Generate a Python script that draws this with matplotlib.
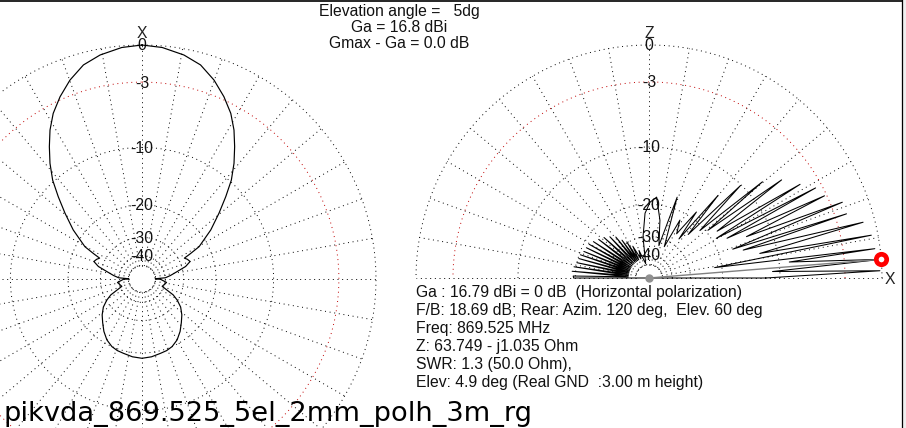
import numpy as np
import matplotlib
matplotlib.use("Agg")
import matplotlib.pyplot as plt
from matplotlib.transforms import ScaledTranslation

W, H, DPI = 906, 428, 100

# ---------------- data ----------------
# Horizontal (azimuth) pattern, degrees clockwise from X (top), dB relative
az_deg = [0, 5, 10.6, 15.3, 19.9, 24.2, 28.2, 31.7, 35.0, 38.5, 42.1, 45.5, 49.5, 54.5,
          60.5, 62.5, 63.8, 66.5, 70, 74, 78, 83, 87, 89, 91, 98, 110, 117, 121, 126,
          132, 138, 144, 150, 156, 161, 166, 173, 180,
          187, 194, 199, 204, 210, 216, 222, 228, 234, 239, 243, 250, 262, 269, 271,
          273, 277, 282, 286, 290, 293.5, 296.2, 297.5, 299.5, 305.5, 310.5, 314.5,
          317.9, 321.5, 325.0, 328.3, 331.8, 335.8, 340.1, 344.7, 349.4, 355, 360]
az_db = [0.0, -0.12, -0.46, -0.92, -1.75, -2.74, -3.81, -5.04, -6.44, -7.98, -9.78,
         -11.98, -14.56, -17.7, -22.1, -25.5, -27.8, -27.0, -26.4, -28.5, -32.5, -36.5,
         -40.0, -50.0, -44.0, -39.0, -41.5, -33.0, -30.2, -27.6, -25.6, -24.0, -22.3,
         -20.9, -20.0, -19.6, -19.4, -19.0, -18.8,
         -19.0, -19.4, -19.6, -20.0, -20.9, -22.3, -24.0, -25.6, -27.6, -30.2, -33.0,
         -41.5, -39.0, -44.0, -50.0, -40.0, -36.5, -32.5, -28.5, -26.4, -27.0, -27.8,
         -25.5, -22.1, -17.7, -14.56, -11.98, -9.78, -7.98, -6.44, -5.04, -3.81, -2.74,
         -1.75, -0.92, -0.46, -0.12, 0.0]

# Vertical (elevation) pattern, degrees counter-clockwise from X (right), dB relative
el_deg = [0.0, 1.8, 3.0, 4.6, 6.5, 7.4, 9.0, 10.9, 12.5, 14.6,
          16.5, 18.0, 19.0, 21.4, 23.0, 25.1, 27.0, 28.4, 30.5, 31.8,
          34.5, 36.5, 39.0, 40.3, 43.0, 45.3, 48.0, 50.1, 52.5, 54.3,
          58.0, 61.9, 64.0, 70.8, 73.0, 79.3, 84.6, 89.2, 93.5, 98.3, 103.0,
          110.0, 113.0, 117.0, 119.5, 121.6, 123.5, 125.5, 127.3, 129.0, 131.3,
          133.5, 135.8, 138.0, 140.2, 142.5, 144.6, 146.8, 148.7, 150.6, 152.4,
          154.2, 156.0, 157.8, 159.5, 161.3, 163.0, 164.5, 166.2, 168.0, 169.7,
          171.5, 173.2, 175.0, 176.7, 178.5, 180.0]
el_db = [-12.0, -0.15, -11.0, 0.0, -8.7, -0.4, -21.8, -0.5, -12.5, -0.9,
         -15.0, -2.0, -16.8, -2.0, -13.7, -3.2, -17.0, -3.6, -19.0, -4.7,
         -18.0, -6.0, -19.5, -7.8, -21.0, -10.1, -24.0, -13.4, -27.0, -18.3,
         -26.0, -22.0, -33.0, -17.4, -33.5, -23.9, -18.3, -19.5, -22.2, -30.0, -48.0,
         -36.0, -42.0, -32.6, -42.0, -29.6, -42.0, -28.0, -42.0, -25.8, -42.0,
         -24.5, -42.0, -23.4, -42.0, -22.6, -42.0, -21.8, -42.0, -21.2, -42.0,
         -21.0, -42.0, -20.8, -42.0, -20.3, -42.0, -20.2, -42.0, -20.0, -42.0,
         -19.5, -42.0, -19.2, -42.0, -19.5, -19.6]

ring_db = [0, -10, -20, -30, -40, -50]
red_ring_db = -3
label_db = [0, -3, -10, -20, -30, -40]
spoke_step = 10

title_lines = ["Elevation angle =   5dg", "Ga = 16.8 dBi", "Gmax - Ga = 0.0 dB"]
info_lines = ["Ga : 16.79 dBi = 0 dB  (Horizontal polarization)",
              "F/B: 18.69 dB; Rear: Azim. 120 deg,  Elev. 60 deg",
              "Freq: 869.525 MHz",
              "Z: 63.749 - j1.035 Ohm",
              "SWR: 1.3 (50.0 Ohm),",
              "Elev: 4.9 deg (Real GND  :3.00 m height)"]
file_name = "pikvda_869.525_5el_2mm_polh_3m_rg"

assert len(az_deg) == len(az_db) and len(el_deg) == len(el_db)


def rad(db):
    # MMANA-style radial scale
    return 10 ** (np.asarray(db, dtype=float) / 40.0)


FONT = "Liberation Sans"
FS = 11.3
DOT = (0, (1, 3.8))

fig = plt.figure(figsize=(W / DPI, H / DPI), dpi=DPI)
fig.patch.set_facecolor("white")

PAD = 1.06


def polar_at(cx, cy, R, zero, direction):
    Rp = R * PAD
    rect = [(cx - Rp) / W, (H - cy - Rp) / H, 2 * Rp / W, 2 * Rp / H]
    ax = fig.add_axes(rect, projection="polar")
    ax.set_theta_zero_location(zero)
    ax.set_theta_direction(direction)
    ax.set_ylim(0, PAD)
    ax.set_axis_off()
    return ax


def draw_grid(ax, t0, t1, label_theta):
    th = np.linspace(np.radians(t0), np.radians(t1), 721)
    rin = rad(-50)
    for a in range(t0, t1 + 1 if t1 < 360 else t1, spoke_step):
        ax.plot([np.radians(a)] * 2, [rin, 1.0], color="black", lw=0.7,
                linestyle=DOT, zorder=1)
    for d in ring_db:
        ax.plot(th, np.full_like(th, rad(d)), color="black", lw=0.7,
                linestyle=DOT, zorder=1)
    ax.plot(th, np.full_like(th, rad(red_ring_db)), color="#c00000", lw=0.7,
            linestyle=DOT, zorder=1)
    off = ScaledTranslation(0, -5.4 / DPI, fig.dpi_scale_trans)
    for d in label_db:
        ax.text(np.radians(label_theta), rad(d), str(d), ha="center", va="baseline",
                family=FONT, fontsize=FS, color="#111111",
                transform=ax.transData + off, zorder=3)


# ---- left: azimuth pattern ----
axL = polar_at(142, 279, 234, "N", -1)
draw_grid(axL, 0, 360, 0)
axL.plot(np.radians(az_deg), rad(az_db), color="black", lw=0.85, zorder=4)

# ---- right: elevation pattern ----
axR = polar_at(649, 278, 233, "E", 1)
draw_grid(axR, 0, 180, 90)
el_t = np.radians(el_deg + [el_deg[0]])
el_r = rad(el_db + [el_db[0]])
axR.plot(el_t, el_r, color="black", lw=0.75, zorder=4)
imax = int(np.argmax(el_db))
axR.plot([0, np.radians(el_deg[imax])], [0, rad(el_db[imax])], color="#808080",
         lw=1.0, zorder=5)
axR.plot([0], [0], marker="o", ms=5, color="#909090", zorder=6)
axR.plot([np.radians(el_deg[imax])], [rad(el_db[imax])], marker="o", ms=7.5,
         mfc="white", mec="#ff0000", mew=3.4, zorder=7)

# ---- overlay: frame and texts ----
ax0 = fig.add_axes([0, 0, 1, 1])
ax0.set_xlim(0, W)
ax0.set_ylim(H, 0)
ax0.set_axis_off()
ax0.patch.set_alpha(0)
ax0.add_patch(plt.Rectangle((902, 0), 4, H, color="#efefef", zorder=1))
ax0.plot([0, 901.5], [0.6, 0.6], color="black", lw=1.2)
ax0.plot([901.5, 901.5], [0, H], color="black", lw=0.9)

for i, s in enumerate(title_lines):
    ax0.text(399, 16 + 16.2 * i, s, ha="center", va="baseline", family=FONT,
             fontsize=FS, color="#111111")
for i, s in enumerate(info_lines):
    ax0.text(416, 296.7 + 18.1 * i, s, ha="left", va="baseline", family=FONT,
             fontsize=FS, color="#111111")

ax0.text(142, 37.5, "X", ha="center", va="baseline", family=FONT, fontsize=FS,
         color="#222222")
ax0.text(649, 37.5, "Z", ha="center", va="baseline", family=FONT, fontsize=FS,
         color="#222222")
ax0.text(890, 283.5, "X", ha="center", va="baseline", family=FONT, fontsize=FS,
         color="#222222")

ax0.text(4, 421, file_name, ha="left", va="baseline", family="DejaVu Sans",
         fontsize=19.6, color="black")

fig.savefig("out.png", dpi=DPI)
